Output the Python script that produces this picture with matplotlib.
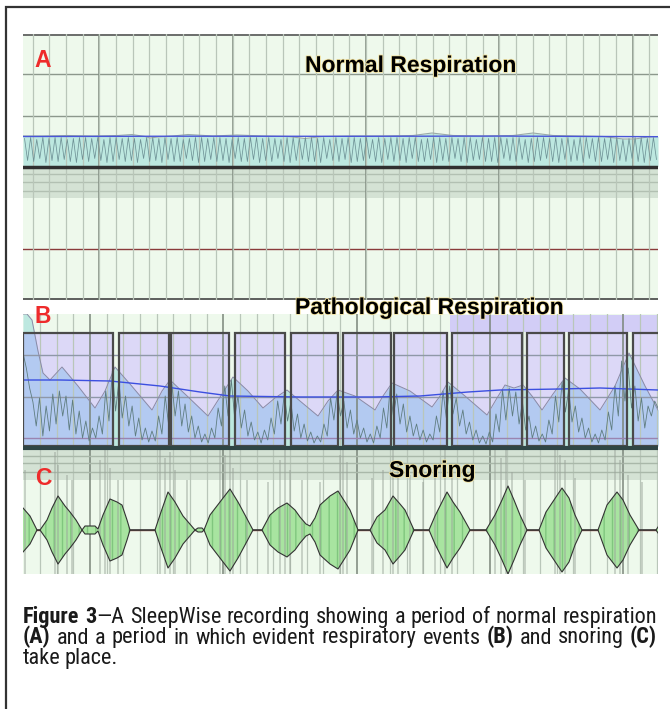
import matplotlib
matplotlib.use("Agg")
import matplotlib.pyplot as plt
import matplotlib.patheffects as pe
from matplotlib.patches import Rectangle
from matplotlib import font_manager
import numpy as np

# ---------------- data ----------------
# panel A - normal respiration: amplitude of every breath (px, peak up / trough down)
A_peaks = [11, 12, 10, 12, 11, 12, 12, 10, 11, 12,
           12, 11, 12, 10, 12, 12, 11, 12, 11, 10,
           12, 12, 11, 12, 11, 12, 10, 11, 12, 12,
           11, 12, 12, 11, 10, 12, 11, 12, 12, 11,
           12, 11, 10, 12, 12, 11, 12, 12, 11, 12,
           10, 12, 11, 12, 12, 11, 12, 10, 12, 11,
           12, 12, 11, 12, 12, 10, 11, 12, 12, 11,
           12, 11, 12, 12, 10, 12, 11, 12, 12, 11,
           12, 12, 10, 11, 12, 12, 11, 12, 11, 12,
           10, 12, 12, 11, 12, 11, 12, 12, 10, 11,
           12, 12, 11, 12]
A_troughs = [-11, -12, -9, -13, -11, -12, -10, -12, -13, -10,
             -12, -9, -11, -13, -12, -10, -12, -11, -13, -9,
             -12, -11, -13, -10, -12, -12, -9, -11, -13, -12,
             -10, -12, -11, -13, -9, -12, -12, -10, -13, -11,
             -12, -9, -12, -13, -11, -10, -12, -12, -13, -9,
             -11, -12, -10, -13, -12, -11, -9, -12, -13, -10,
             -12, -11, -13, -9, -12, -12, -10, -13, -11, -12,
             -9, -12, -13, -11, -10, -12, -12, -13, -9, -11,
             -12, -10, -13, -12, -11, -9, -12, -13, -10, -12,
             -11, -13, -9, -12, -12, -10, -13, -11, -12, -9,
             -12, -13, -11, -10]
A_env_t = [0, 20, 45, 70, 95, 109, 122, 127, 135, 150, 165, 190, 214, 240, 265, 282,
           300, 330, 360, 390, 409, 430, 460, 490, 510, 530, 555, 580, 600, 612, 625, 635]
A_env = [13.5, 13.5, 14, 13.5, 14, 15, 13, 11.5, 12.5, 13.5, 15, 13.5, 14.5, 13.5, 13, 11,
         13, 13.5, 13.5, 14, 16.5, 14, 13.5, 14, 16.5, 14, 13.5, 13, 10.5, 10.5, 12.5, 13]
A_trend_t = [0, 160, 320, 480, 635]
A_trend = [13.0, 13.3, 13.2, 13.4, 12.8]

# panel B - pathological respiration
B_env_t = [0, 4, 9, 15, 20, 27, 39, 55, 72, 82, 92, 107, 129, 139, 147, 162, 185, 199,
           210, 225, 240, 252, 264, 277, 295, 305, 315, 332, 352, 360, 369, 387, 409,
           417, 425, 442, 464, 474, 482, 491, 500, 509, 519, 530, 542, 557, 577, 592,
           606, 622, 635]
B_env = [132, 132, 126, 95, 73, 66, 79, 60, 38, 55, 79, 62, 36, 55, 66, 52, 30, 52,
         69, 55, 38, 48, 56, 45, 30, 45, 56, 50, 36, 50, 63, 55, 39,
         50, 64, 50, 31, 48, 61, 58, 61, 50, 36, 52, 68, 57, 36, 60,
         93, 60, 36]
B_wave = [93, 78, 58, 44, 20, 48, 10, 40, 15, 52, 22, 55, 30, 50, 16, 46, 12, 35, 8, 25, 5, 18,
          8, 30, 12, 55, 25, 75, 35, 65, 28, 50, 20, 40, 10, 28, 6, 18, 4,
          15, 5, 30, 12, 50, 22, 62, 30, 55, 20, 42, 14, 30, 8, 20, 4, 12,
          3, 18, 8, 38, 20, 60, 30, 66, 28, 50, 18, 36, 10, 24, 6, 14, 3,
          16, 6, 28, 12, 45, 22, 52, 25, 44, 15, 32, 8, 22, 5, 14, 3, 10,
          4, 22, 10, 48, 26, 54, 30, 45, 18, 36, 12, 26, 8, 18, 4, 12, 3,
          20, 8, 38, 18, 58, 30, 52, 22, 42, 14, 30, 10, 22, 6, 16, 4, 12,
          6, 30, 14, 55, 28, 60, 32, 48, 20, 36, 12, 24, 6, 16, 3, 10, 2,
          14, 4, 32, 14, 56, 26, 58, 30, 54, 22, 44, 16, 30, 8, 20, 5, 12,
          4, 26, 12, 50, 24, 64, 34, 56, 24, 40, 14, 28, 8, 18, 4, 12, 3,
          16, 6, 34, 16, 60, 30, 85, 45, 78, 38, 60, 25, 48, 18, 40, 30, 45, 38]
B_trend_t = [0, 37, 87, 137, 177, 207, 277, 352, 397, 445, 477, 537, 577, 635]
B_trend = [66, 66, 65, 60, 54, 50, 49, 49, 50, 54, 56, 57, 58, 56]
B_events = [(0, 90), (96, 146), (148, 206), (212, 262), (268, 315), (320, 368),
            (371, 424), (429, 499), (504, 541), (546, 604), (610, 645)]
B_flag = (427, 645)

# panel C - snoring envelope (symmetric about the baseline) and raw sound spikes
C_t = [0, 7, 14, 17, 24, 29, 35, 42, 47, 53, 59, 62, 72, 75, 80, 87, 94, 99, 104, 107,
       132, 138, 145, 152, 160, 172, 175, 179, 181, 187, 197, 207, 215, 222, 230, 239,
       247, 255, 264, 272, 277, 283, 287, 292, 297, 307, 315, 322, 327, 335, 347, 354,
       362, 370, 377, 382, 391, 406, 412, 418, 424, 430, 437, 447, 463, 472, 479, 485,
       491, 497, 504, 516, 523, 531, 539, 546, 552, 559, 575, 584, 594, 600, 607, 616,
       633, 635]
C_amp = [22, 14, 0, 0, 10, 22, 34, 24, 18, 10, 0, 4, 4, 1, 15, 31, 28, 25, 10, 0,
         0, 18, 38, 28, 14, 0, 2, 2, 0, 15, 28, 41, 28, 15, 0, 0,
         15, 22, 27, 20, 13, 6, 4, 12, 25, 34, 39, 28, 20, 0, 0, 13,
         20, 34, 26, 20, 0, 0, 14, 26, 38, 28, 18, 0, 0, 15, 30, 44,
         30, 15, 0, 0, 18, 30, 42, 32, 15, 0, 0, 25, 38, 30, 15, 0,
         0, 3]
C_spike_t = [2, 32, 35, 44, 49, 77, 82, 87, 95, 137, 142, 147, 152, 164, 197, 202, 207,
             210, 224, 245, 257, 262, 267, 279, 297, 317, 320, 324, 349, 360, 370, 375,
             387, 400, 412, 422, 429, 472, 478, 483, 489, 502, 532, 537, 542, 552, 592,
             597, 600, 605, 619]
C_spike_amp = [60, 78, 65, 55, 50, 70, 80, 62, 50, 80, 72, 78, 60, 50, 80, 75, 80,
               62, 50, 48, 70, 80, 60, 50, 48, 75, 80, 68, 52, 60, 80, 70,
               55, 48, 60, 80, 55, 80, 72, 80, 58, 50, 80, 75, 70, 52, 80,
               70, 76, 55, 48]

caption = ["**Figure 3**—A SleepWise recording showing a period of normal respiration",
           "**(A)** and a period in which evident respiratory events **(B)** and snoring **(C)**",
           "take place."]

# ---------------- colours ----------------
GREEN = "#eef9ec"
BAND = "#d4e2d4"
TEAL = "#bde8e0"
LAV = "#dcd8f7"
BLUE = "#b3caf1"
RED = "#ee2b2b"

W, H = 670, 709
fig = plt.figure(figsize=(W / 100, H / 100), dpi=100)
fig.patch.set_facecolor("white")


def px_axes(x0, y0, x1, y1, z=1):
    ax = fig.add_axes([x0 / W, 1 - y1 / H, (x1 - x0) / W, (y1 - y0) / H], zorder=z)
    ax.set_xlim(0, 635)
    ax.set_ylim(y1, y0)
    for s in ax.spines.values():
        s.set_visible(False)
    ax.tick_params(which="both", length=0, labelbottom=False, labelleft=False)
    return ax


def vgrid(ax, first_minor, first_major):
    ax.set_xticks(np.arange(first_major, 640, 400 / 3))
    ax.set_xticks(np.arange(first_minor, 640, 50 / 3), minor=True)
    ax.set_yticks([])
    ax.set_axisbelow(False)
    ax.grid(which="minor", axis="x", color="#b9c6b9", lw=0.9)
    ax.grid(which="major", axis="x", color="#7a867a", lw=1.1)


# ---------------- panel A ----------------
axA = px_axes(23, 34, 658, 300)
axA.set_facecolor(GREEN)
vgrid(axA, 9.7, 76.3)
A_base = 149.5
axA.axhspan(167, 198, color=BAND, lw=0)
for y in (74, 116):
    axA.axhline(y, color="#8c988c", lw=1)
for y in (174, 182, 191):
    axA.axhline(y, color="#b2c0b2", lw=1)
axA.axhline(34.5, color="#555", lw=1.2)
axA.axhline(249, color="#8a3a3a", lw=1)
axA.axhline(299, color="#444", lw=1.2)

env = A_base - np.array(A_env)
axA.fill_between(A_env_t, env, 166.5, color=TEAL, lw=0)
axA.plot(A_env_t, env, color="#9aaaa8", lw=0.8, zorder=3)
n = len(A_peaks)
T = 635 / n
tA = np.ravel(np.column_stack([(np.arange(n) + 0.25) * T, (np.arange(n) + 0.75) * T]))
yA = np.ravel(np.column_stack([A_peaks, A_troughs]))
axA.plot(tA, A_base - yA, color="#6f9296", lw=0.55, zorder=3)
axA.plot(A_trend_t, A_base - np.array(A_trend), color="#4a55d8", lw=1, zorder=3)
axA.axhline(166.5, color="#303030", lw=2.5, zorder=3)

# ---------------- panels B and C ----------------
ax = px_axes(23, 300, 658, 574)
ax.set_facecolor(GREEN)
vgrid(ax, 17, 67)
B_base = 446

ax.axvspan(B_flag[0], B_flag[1], ymin=(574 - 332) / 274, ymax=(574 - 315) / 274,
           color="#d2cdf6", lw=0)
envB = B_base - np.array(B_env)
ax.fill_between(B_env_t, envB, B_base, color=TEAL, lw=0)
for a, b in B_events:
    r = Rectangle((a, 333), b - a, B_base - 333, facecolor=LAV, edgecolor="none", zorder=1.1)
    ax.add_patch(r)
    f = ax.fill_between(B_env_t, envB, B_base, color=BLUE, lw=0, zorder=1.2)
    f.set_clip_path(Rectangle((a, 333), b - a, B_base - 333, transform=ax.transData))
for y, c in ((355, "#8f98a8"), (397, "#8f98a8"), (438, "#9a84b0")):
    ax.axhline(y, color=c, lw=1, zorder=2.6)
ax.plot(B_env_t, envB, color="#8a8aa6", lw=0.7, zorder=3)
ax.plot(np.linspace(0, 635, len(B_wave)), B_base - np.array(B_wave),
        color="#5f7d80", lw=0.6, zorder=3)
ax.plot(B_trend_t, B_base - np.array(B_trend), color="#3b4fe0", lw=1, zorder=3)
for a, b in B_events:
    ax.add_patch(Rectangle((a, 333), b - a, B_base - 333, facecolor="none",
                           edgecolor="#4a4a4a", lw=1.6, zorder=3.2))

# separator band between B and C
ax.axhspan(448, 480, color=BAND, lw=0)
for y in (456, 463, 472):
    ax.axhline(y, color="#a9b8a9", lw=1, zorder=2.6)
ax.axhline(448, color="#2f4545", lw=3, zorder=3.3)

# snoring
C_base = 530
ax.axhline(C_base, color="#a05a50", lw=1, zorder=2.7)
amp = np.array(C_amp)
ax.fill_between(C_t, C_base - amp, C_base + amp, facecolor="#a8e4a0",
                edgecolor="#80c67e", hatch="||", lw=0, zorder=2.8)
ax.plot(C_t, C_base - amp, color="#333", lw=0.8, zorder=3.1)
ax.plot(C_t, C_base + amp, color="#333", lw=0.8, zorder=3.1)
sa = np.array(C_spike_amp)
ax.vlines(C_spike_t, C_base - sa, C_base + sa, color="#9aa49a", lw=1.3, alpha=0.5, zorder=3)

# white title strip above B (hides the grid)
ax.add_patch(Rectangle((0, 300), 635, 14, facecolor="white", edgecolor="none", zorder=4))

# ---------------- overlay: frame, labels, caption ----------------
ov = fig.add_axes([0, 0, 1, 1], zorder=10)
ov.set_xlim(0, W)
ov.set_ylim(H, 0)
ov.axis("off")
ov.patch.set_alpha(0)
ov.plot([6, 6, 675], [H + 5, 7, 7], color="#333", lw=1.6, solid_joinstyle="miter")

glow = [pe.withStroke(linewidth=1.2, foreground="#f3e3a0")]
tkw = dict(fontsize=16.5, fontweight="bold", family="Liberation Sans", va="baseline")
ov.text(305, 72, "Normal Respiration", path_effects=glow, **tkw)
ov.text(295, 314, "Pathological Respiration", path_effects=glow, **tkw)
ov.text(389, 477, "Snoring", path_effects=glow, **tkw)
for lab, x, y in (("A", 34, 67), ("B", 35, 323), ("C", 35, 485)):
    ov.text(x, y, lab, color=RED, **tkw)

# condensed face for the caption if one is installed
names = {f.name for f in font_manager.fontManager.ttflist}
cap_font = [f for f in ("Liberation Sans Narrow", "Roboto Condensed", "Open Sans Condensed")
            if f in names] + ["Liberation Sans"]
cap_size = 16 if cap_font[0] != "Liberation Sans" else 13.5

renderer = fig.canvas.get_renderer()


def caption_line(text, y, justify):
    bold = False
    words = []
    for w in text.split(" "):
        parts = w.split("**")
        segs = []
        for i, p in enumerate(parts):
            if i > 0:
                bold = not bold
            if p:
                t = ov.text(0, y, p, fontsize=cap_size, family=cap_font, va="baseline",
                            fontweight="bold" if bold else "normal", color="#1a1a1a")
                segs.append([t, t.get_window_extent(renderer).width])
        words.append(segs)
    widths = [sum(s[1] for s in w) for w in words]
    if justify:
        gap = (657 - 23 - sum(widths)) / (len(words) - 1)
    else:
        gap = 4
    x = 23
    for w, wd in zip(words, widths):
        xx = x
        for t, sw in w:
            t.set_x(xx)
            xx += sw
        x += wd + gap


for i, line in enumerate(caption):
    caption_line(line, 623 + 20.5 * i, justify=i < 2)

fig.savefig("out.png", dpi=100)
